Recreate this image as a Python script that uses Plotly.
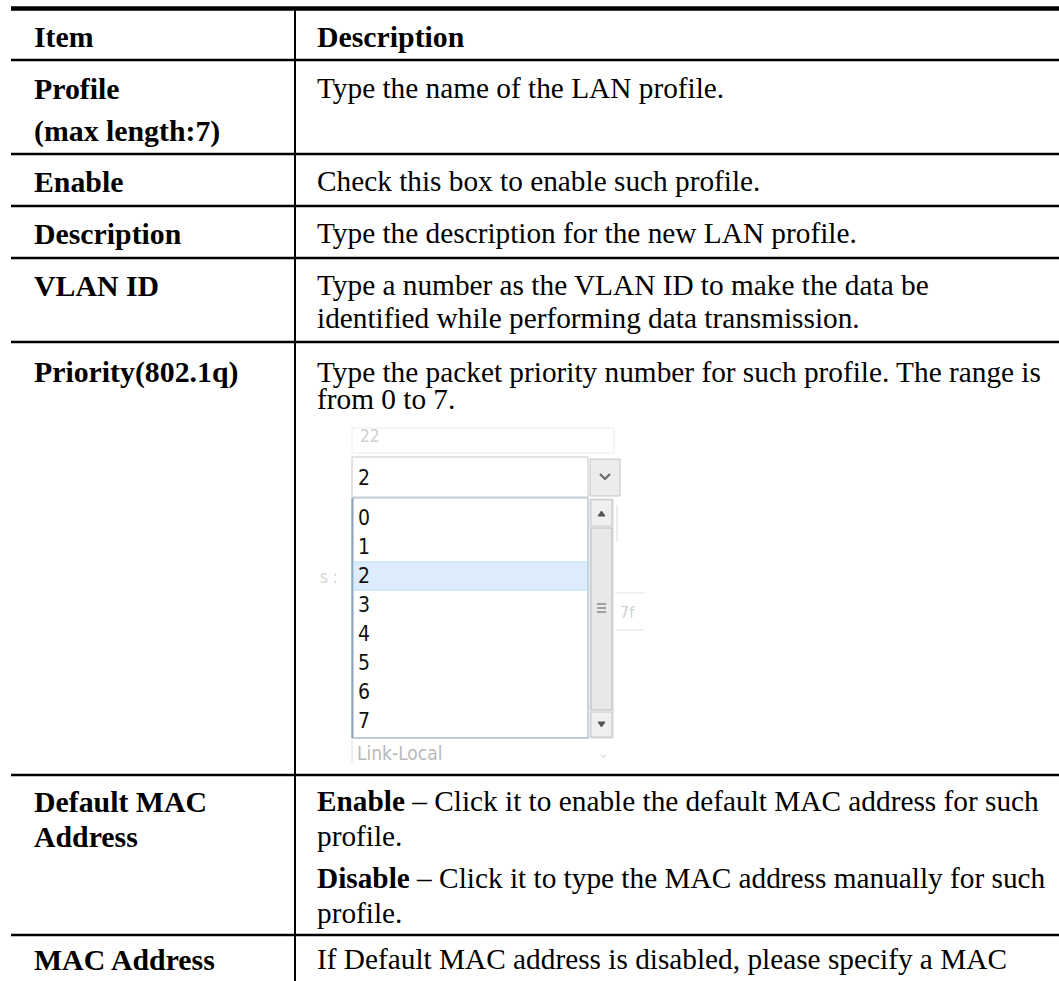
import plotly.graph_objects as go

# ---------------- data ----------------
header = ["Item", "Description"]
items = [
    ["Profile", "(max length:7)"],
    ["Enable"],
    ["Description"],
    ["VLAN ID"],
    ["Priority(802.1q)"],
    ["Default MAC", "Address"],
    ["MAC Address"],
]
descriptions = [
    ["Type the name of the LAN profile."],
    ["Check this box to enable such profile."],
    ["Type the description for the new LAN profile."],
    ["Type a number as the VLAN ID to make the data be",
     "identified while performing data transmission."],
    ["Type the packet priority number for such profile. The range is",
     "from 0 to 7."],
    ["<b>Enable</b> – Click it to enable the default MAC address for such",
     "profile.",
     "<b>Disable</b> – Click it to type the MAC address manually for such",
     "profile."],
    ["If Default MAC address is disabled, please specify a MAC"],
]
dropdown_options = ["0", "1", "2", "3", "4", "5", "6", "7"]
selected_option = "2"
faint_labels = ["22", "s :", "Link-Local", "7f"]

# ---------------- layout positions ----------------
W, H = 1059, 981
X_LEFT, X_DIV, X_RIGHT = 11, 295, 1059
TXT_L, TXT_R = 32, 315
TOP_Y = 8.5
row_bottoms = [60, 154, 206, 258, 342, 775, 935]
header_y = 36
item_y = [[88, 131], [181], [233], [285], [372], [801, 836], [959]]
desc_y = [[88], [181], [233], [285, 318], [372, 399], [801, 836, 878, 913], [959]]

SERIF = "Liberation Serif, Times New Roman, serif"
FS = 29.3
FSB = 29.8
SANS_N = "Liberation Sans Narrow, DejaVu Sans Condensed, Arial Narrow, sans-serif"

fig = go.Figure()
shapes = []
ann = []

def line(x0, y0, x1, y1, w=2.5, c="black"):
    shapes.append(dict(type="line", xref="x", yref="y", x0=x0, y0=y0, x1=x1, y1=y1,
                       line=dict(color=c, width=w), layer="above"))

def rect(x0, y0, x1, y1, fill="rgba(0,0,0,0)", lc="rgba(0,0,0,0)", lw=1):
    shapes.append(dict(type="rect", xref="x", yref="y", x0=x0, y0=y0, x1=x1, y1=y1,
                       fillcolor=fill, line=dict(color=lc, width=lw), layer="above"))

def text(x, y, s, size=FS, family=SERIF, color="black", xanchor="left"):
    ann.append(dict(x=x, y=y, xref="x", yref="y", text=s, showarrow=False,
                    xanchor=xanchor, yanchor="middle",
                    font=dict(family=family, size=size, color=color)))

# table borders
line(X_LEFT, TOP_Y, X_RIGHT, TOP_Y, w=4.5)
for yb in row_bottoms:
    line(X_LEFT, yb, X_RIGHT, yb, w=2.5)
line(X_DIV, TOP_Y, X_DIV, H, w=2)

# header
text(TXT_L, header_y, "<b>" + header[0] + "</b>", size=FSB)
text(TXT_R, header_y, "<b>" + header[1] + "</b>", size=FSB)

# rows
for lines_i, ys in zip(items, item_y):
    for s, y in zip(lines_i, ys):
        text(TXT_L, y, "<b>" + s + "</b>", size=FSB)
for lines_d, ys in zip(descriptions, desc_y):
    for s, y in zip(lines_d, ys):
        text(TXT_R, y, s)

# ---------------- dropdown screenshot ----------------
DX0, DX1 = 352, 588
# faint textbox behind
rect(DX0, 428, 614, 453, fill="white", lc="#ececec", lw=1)
text(DX0 + 6, 436, faint_labels[0], size=17, family=SANS_N, color="#d0d0d0")
# select box
rect(DX0, 457, DX1, 497, fill="white", lc="#c6c6c6", lw=1)
text(DX0 + 4, 478, selected_option, size=21, family=SANS_N, color="#111111")
# arrow button
rect(590, 459, 620, 496, fill="#ececec", lc="#c4c4c4", lw=1)
shapes.append(dict(type="path", xref="x", yref="y",
                   path="M 600 474 L 605 479 L 610 474", line=dict(color="#6b6b6b", width=2.2),
                   layer="above"))
# list box
rect(DX0, 498, DX1, 738, fill="white", lc="#a9b9cc", lw=1.2)
line(DX0 + 0.5, 498, DX0 + 0.5, 738, w=2, c="#8fa3bb")
# highlight band
sel_idx = dropdown_options.index(selected_option)
ITEM_Y0, ITEM_STEP = 518, 29
hy = ITEM_Y0 + ITEM_STEP * sel_idx
rect(DX0 + 1.5, hy - 14, DX1 - 0.5, hy + 14, fill="#dcecfc", lc="#b5d6f6", lw=1)
for i, opt in enumerate(dropdown_options):
    text(DX0 + 4, ITEM_Y0 + ITEM_STEP * i, opt, size=21, family=SANS_N, color="#111111")
# cover the partially visible last item below list bottom
rect(DX0 - 2, 739, 625, 760, fill="white")
line(DX0, 738, DX1, 738, w=1.2, c="#a9b9cc")
# scrollbar
rect(590, 499, 613, 738, fill="#f2f2f2", lc="#d2d2d2", lw=1)
rect(591, 500, 612, 526, fill="#f0f0f0", lc="#c8c8c8", lw=1)
shapes.append(dict(type="path", xref="x", yref="y",
                   path="M 598 516 L 601.5 511 L 605 516 Z", fillcolor="#555555",
                   line=dict(color="#555555", width=1), layer="above"))
rect(591, 528, 612, 710, fill="#e8e8e8", lc="#bdbdbd", lw=1)
for gy in [604, 608, 612]:
    line(597, gy, 606, gy, w=1.2, c="#707070")
rect(591, 712, 612, 737, fill="#f0f0f0", lc="#c8c8c8", lw=1)
shapes.append(dict(type="path", xref="x", yref="y",
                   path="M 598 722 L 601.5 727 L 605 722 Z", fillcolor="#555555",
                   line=dict(color="#555555", width=1), layer="above"))
# faint background bits
line(617, 505, 617, 542, w=1, c="#dcdcdc")
line(615, 593, 645, 593, w=1, c="#e2e2e2")
line(615, 630, 645, 630, w=1, c="#e2e2e2")
text(618, 612, faint_labels[3], size=16, family=SANS_N, color="#d0d0d0")
text(318, hy + 1, faint_labels[1], size=17, family=SANS_N, color="#d6d6d6")
text(DX0 + 3, 753, faint_labels[2], size=19, family=SANS_N, color="#b8b8b8")
line(DX0, 740, DX0, 762, w=1, c="#d8d8d8")
text(603, 753, "⌄", size=14, family=SANS_N, color="#dddddd", xanchor="center")

fig.update_layout(
    width=W, height=H,
    margin=dict(l=0, r=0, t=0, b=0),
    paper_bgcolor="white", plot_bgcolor="white",
    xaxis=dict(range=[0, W], visible=False, fixedrange=True),
    yaxis=dict(range=[H, 0], visible=False, fixedrange=True),
    shapes=shapes, annotations=ann, showlegend=False,
)
fig.write_html(
    "out.html",
    config={"displayModeBar": False},
    post_script="document.body.style.margin='0';document.body.style.overflow='hidden';",
)
